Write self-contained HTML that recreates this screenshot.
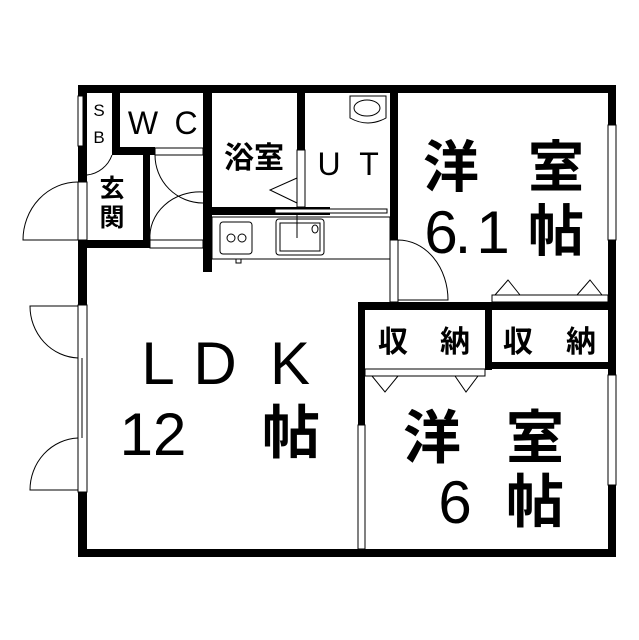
<!DOCTYPE html>
<html><head><meta charset="utf-8"><style>
html,body{margin:0;padding:0;background:#fff;}
svg{display:block;}
text{font-family:"Liberation Sans","Noto Sans CJK JP",sans-serif;fill:#000;text-anchor:middle;}
.b{font-weight:bold;}
.n{font-weight:normal;}
</style></head><body>
<svg width="639" height="640" viewBox="0 0 639 640" xmlns="http://www.w3.org/2000/svg">
<rect width="639" height="640" fill="#fff"/>
<g fill="#000">
<rect x="78" y="85" width="538" height="8"/>
<rect x="78" y="549" width="538" height="8"/>
<rect x="608" y="85" width="8" height="472"/>
<rect x="78" y="85" width="9" height="472"/>
<rect x="112" y="85" width="8" height="70"/>
<rect x="112" y="147" width="43" height="8"/>
<rect x="203" y="85" width="9" height="187"/>
<rect x="297" y="85" width="8" height="122"/>
<rect x="203" y="207" width="127" height="8"/>
<rect x="390" y="85" width="8" height="155"/>
<rect x="78" y="240" width="72" height="8"/>
<rect x="143" y="150" width="7" height="98"/>
<rect x="358" y="302" width="258" height="8"/>
<rect x="358" y="302" width="7" height="254"/>
<rect x="485" y="302" width="7" height="68"/>
<rect x="485" y="362" width="131" height="7"/>
</g>
<g fill="#fff" stroke="#000" stroke-width="1">
<rect x="78" y="96" width="5" height="50"/>
<rect x="78" y="182" width="9" height="58"/>
<rect x="78" y="305" width="9" height="187"/>
<line x1="82" y1="358" x2="82" y2="438"/>
<rect x="608" y="125" width="8" height="115"/>
<rect x="608" y="375" width="8" height="110"/>
<rect x="358" y="425" width="7" height="124"/>
<rect x="390" y="240" width="8" height="62"/>
<rect x="297" y="150" width="8" height="57"/>
<rect x="155" y="148" width="48" height="7"/>
<rect x="150" y="240" width="53" height="8"/>
<rect x="275" y="209" width="112" height="4"/>
<rect x="492" y="295" width="116" height="7"/>
<rect x="365" y="369" width="120" height="7"/>
</g>
<g fill="none" stroke="#000" stroke-width="1">
<path d="M78 240 L23 240 A55 58 0 0 1 78 182"/>
<path d="M78 306 L30 306 A50 52 0 0 0 78 358"/>
<path d="M78 490 L30 490 A50 52 0 0 1 78 438"/>
<path d="M87 175 A30 30 0 0 0 112 155"/>
<path d="M155 155 A48 48 0 0 0 203 203 M150 240 A50 45 0 0 1 203 192"/>
<path d="M398 240 L398 300 L448 300 A50 60 0 0 0 398 240"/>
<path d="M297 178 L270 190 L297 203"/>
<path d="M495 295 L508 280 L520 295 M577 295 L590 280 L602 295"/>
<path d="M372 376 L385 392 L398 376 M455 376 L466 392 L478 376"/>
<rect x="212" y="217" width="178" height="42"/>
<rect x="220" y="222" width="32" height="32" rx="3"/>
<circle cx="231" cy="238" r="4"/><circle cx="242" cy="238" r="4"/>
<rect x="276" y="219" width="48" height="36" rx="3"/>
<rect x="280" y="223" width="40" height="28"/>
<line x1="297" y1="215" x2="297" y2="238"/>
<ellipse cx="315" cy="229" rx="3" ry="4"/>
<rect x="236" y="259" width="5" height="4"/>
<path d="M350 96 L386 96 L386 118 Q368 128 350 118 Z"/>
<ellipse cx="367" cy="108" rx="13" ry="8"/>
</g>
<g class="b">
<text class="n" x="99" y="116" font-size="17">S</text>
<text class="n" x="99" y="143" font-size="17">B</text>
<text class="n" x="143" y="134" font-size="32">W</text>
<text class="n" x="186" y="134" font-size="32">C</text>
<text x="254" y="168" font-size="30">浴室</text>
<text class="n" x="329" y="175" font-size="32">U</text>
<text class="n" x="369" y="175" font-size="32">T</text>
<text x="112" y="197" font-size="25">玄</text>
<text x="112" y="226" font-size="25">関</text>
<text x="451" y="187" font-size="56">洋</text>
<text x="556" y="187" font-size="56">室</text>
<text class="n" x="441" y="253" font-size="60">6</text>
<text class="n" x="463" y="253" font-size="60">.</text>
<text class="n" x="493" y="253" font-size="60">1</text>
<text x="556" y="251" font-size="56">帖</text>
<text class="n" x="158" y="384" font-size="60">L</text>
<text class="n" x="215" y="384" font-size="60">D</text>
<text class="n" x="290" y="384" font-size="60">K</text>
<text class="n" x="153" y="455" font-size="60">12</text>
<text x="291" y="453" font-size="58">帖</text>
<text x="393" y="352" font-size="30">収</text>
<text x="455" y="352" font-size="30">納</text>
<text x="518" y="352" font-size="30">収</text>
<text x="581" y="352" font-size="30">納</text>
<text x="432" y="458" font-size="58">洋</text>
<text x="535" y="458" font-size="58">室</text>
<text class="n" x="455" y="523" font-size="60">6</text>
<text x="535" y="522" font-size="58">帖</text>
</g>
</svg>
</body></html>
